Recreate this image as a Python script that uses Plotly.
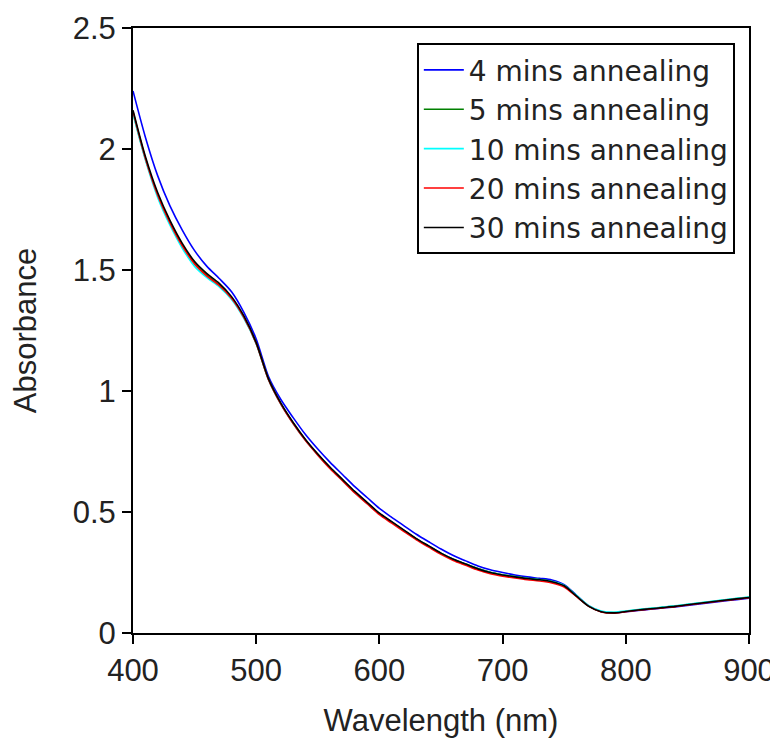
import plotly.graph_objects as go

wavelength = [400, 410, 420, 430, 440, 450, 460, 470, 480, 490,
              500, 510, 520, 530, 540, 550, 560, 570, 580, 590,
              600, 610, 620, 630, 640, 650, 660, 670, 680, 690,
              700, 710, 720, 730, 740, 750, 760, 770, 780, 790,
              800, 810, 820, 830, 840, 850, 860, 870, 880, 890, 900]

abs_4min = [2.24, 2.05, 1.89, 1.765, 1.665, 1.58, 1.515, 1.465, 1.41, 1.325,
            1.215, 1.06, 0.965, 0.89, 0.82, 0.76, 0.705, 0.655, 0.605, 0.56,
            0.515, 0.478, 0.443, 0.408, 0.377, 0.347, 0.32, 0.298, 0.277, 0.261,
            0.25, 0.24, 0.232, 0.226, 0.219, 0.2, 0.156, 0.112, 0.089, 0.083,
            0.088, 0.093, 0.098, 0.103, 0.108, 0.114, 0.12, 0.126, 0.132, 0.138, 0.144]

abs_5min = [2.15, 1.962, 1.812, 1.698, 1.603, 1.528, 1.478, 1.438, 1.384, 1.305,
            1.197, 1.048, 0.948, 0.868, 0.798, 0.738, 0.683, 0.633, 0.583, 0.538,
            0.493, 0.458, 0.423, 0.389, 0.359, 0.329, 0.305, 0.285, 0.266, 0.251,
            0.241, 0.233, 0.226, 0.221, 0.213, 0.196, 0.153, 0.111, 0.089, 0.084,
            0.09, 0.096, 0.101, 0.106, 0.111, 0.118, 0.124, 0.13, 0.136, 0.142, 0.148]

abs_10min = [2.145, 1.955, 1.8, 1.685, 1.59, 1.515, 1.468, 1.43, 1.378, 1.3,
             1.195, 1.047, 0.946, 0.866, 0.796, 0.736, 0.681, 0.631, 0.581, 0.536,
             0.492, 0.457, 0.422, 0.388, 0.358, 0.329, 0.304, 0.284, 0.265, 0.25,
             0.24, 0.232, 0.225, 0.22, 0.213, 0.197, 0.155, 0.113, 0.091, 0.086,
             0.091, 0.097, 0.102, 0.107, 0.112, 0.119, 0.125, 0.131, 0.137, 0.143, 0.149]

abs_20min = [2.155, 1.962, 1.81, 1.695, 1.6, 1.525, 1.475, 1.436, 1.383, 1.304,
             1.197, 1.047, 0.946, 0.865, 0.795, 0.735, 0.679, 0.629, 0.579, 0.534,
             0.489, 0.454, 0.419, 0.385, 0.355, 0.325, 0.3, 0.28, 0.26, 0.245,
             0.235, 0.227, 0.22, 0.215, 0.207, 0.19, 0.15, 0.11, 0.087, 0.082,
             0.088, 0.094, 0.099, 0.104, 0.109, 0.116, 0.122, 0.128, 0.134, 0.14, 0.146]

abs_30min = [2.16, 1.97, 1.82, 1.705, 1.61, 1.535, 1.485, 1.445, 1.39, 1.31,
             1.2, 1.05, 0.95, 0.87, 0.8, 0.74, 0.685, 0.635, 0.585, 0.54,
             0.495, 0.46, 0.425, 0.39, 0.36, 0.33, 0.305, 0.285, 0.265, 0.25,
             0.24, 0.232, 0.225, 0.22, 0.212, 0.195, 0.152, 0.11, 0.088, 0.083,
             0.089, 0.095, 0.1, 0.105, 0.11, 0.117, 0.123, 0.129, 0.135, 0.141, 0.147]

series_names = ["4 mins annealing", "5 mins annealing", "10 mins annealing",
                "20 mins annealing", "30 mins annealing"]
series_values = [abs_4min, abs_5min, abs_10min, abs_20min, abs_30min]
series_colors = ["#0000ff", "#008000", "#00ffff", "#ff0000", "#000000"]

x_ticks = [400, 500, 600, 700, 800, 900]
y_ticks = [0, 0.5, 1, 1.5, 2, 2.5]
y_tick_labels = ["0", "0.5", "1", "1.5", "2", "2.5"]

FONT = "Liberation Sans, Arial, Helvetica, sans-serif"
LEGEND_FONT = "DejaVu Sans, Liberation Sans, sans-serif"

fig = go.Figure()
for name, vals, col in zip(series_names, series_values, series_colors):
    fig.add_trace(go.Scatter(
        x=wavelength, y=vals, mode="lines", name=name,
        line=dict(color=col, width=1.6, shape="spline", smoothing=0.8),
    ))

fig.update_layout(
    width=778, height=740,
    margin=dict(l=125, r=37, t=20, b=115, autoexpand=False),
    paper_bgcolor="white", plot_bgcolor="white",
    font=dict(family=FONT, color="#222222", size=30),
    showlegend=True,
    legend=dict(
        x=0.977, y=0.975, xanchor="right", yanchor="top",
        bgcolor="white", bordercolor="#000000", borderwidth=2,
        font=dict(family=LEGEND_FONT, size=28, color="#222222"),
        tracegroupgap=0, itemwidth=40,
    ),
)

fig.update_xaxes(
    range=[400, 900], tickvals=x_ticks,
    showline=True, linecolor="black", linewidth=2, mirror=True,
    ticks="outside", ticklen=9, tickwidth=1.5, tickcolor="black",
    showgrid=False, zeroline=False,
    tickfont=dict(family=FONT, size=31, color="#222222"),
    title=dict(text="Wavelength (nm)", font=dict(family=FONT, size=31, color="#222222"), standoff=22),
    automargin=False,
)
fig.update_yaxes(
    range=[0, 2.5], tickvals=y_ticks, ticktext=y_tick_labels,
    showline=True, linecolor="black", linewidth=2, mirror=True,
    ticks="outside", ticklen=9, tickwidth=1.5, tickcolor="black",
    showgrid=False, zeroline=False,
    tickfont=dict(family=FONT, size=31, color="#222222"),
    title=dict(text="Absorbance", font=dict(family=FONT, size=31, color="#222222"), standoff=27),
    automargin=False,
)

fig.write_html("out.html")
